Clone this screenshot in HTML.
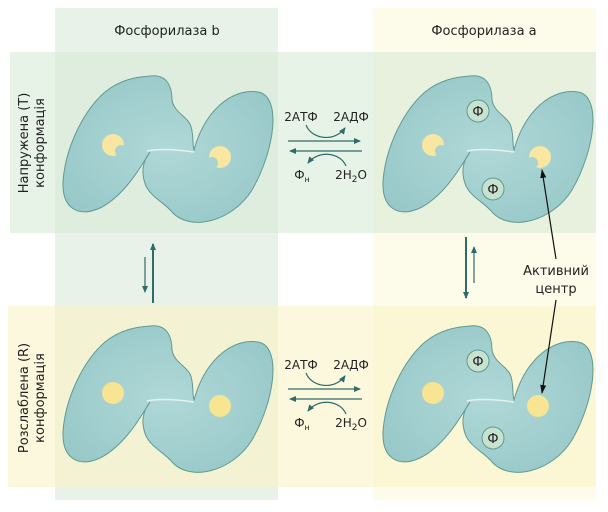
<!DOCTYPE html>
<html><head><meta charset="utf-8"><style>
html,body{margin:0;padding:0;background:#fff;}
svg{display:block;}
text{font-family:"DejaVu Sans","Liberation Sans",sans-serif;fill:#222;}
</style></head><body>
<svg width="608" height="512" viewBox="0 0 608 512" xmlns="http://www.w3.org/2000/svg">
<defs>
<radialGradient id="pg" cx="0.5" cy="0.5" r="0.6">
<stop offset="0" stop-color="#b0d8d8"/><stop offset="1" stop-color="#98c8c8"/>
</radialGradient>
<path id="prot" d="M150,76 C168,74 172,88 172,100 C174,112 186,116 190,124 C194,132 192,144 194,150 C205,110 232,88 258,92 C282,96 275,150 252,190 C232,222 190,232 172,212 C165,203 152,198 146,186 C141,174 142,162 150,152 C140,168 124,196 100,208 C78,218 62,208 63,182 C65,150 82,112 105,92 C120,80 135,77 150,76 Z" fill="url(#pg)" stroke="#5f9a93" stroke-width="1"/>
<path id="crease" d="M147,151 C160,148 180,150 194,152" fill="none" stroke="#e6f2f0" stroke-width="1.5"/>
<marker id="ah" markerWidth="8" markerHeight="8" refX="6" refY="3" orient="auto" markerUnits="userSpaceOnUse"><path d="M0,0 L7,3 L0,6 Z" fill="#2e6b6b"/></marker>
<marker id="ahb" markerWidth="10" markerHeight="8" refX="8" refY="3" orient="auto" markerUnits="userSpaceOnUse"><path d="M0,0 L9,3 L0,6 Z" fill="#111"/></marker>
</defs>
<rect x="55" y="8" width="223" height="492" fill="#e8f2e9"/>
<rect x="373" y="8" width="223" height="492" fill="#fdfbe9"/>
<rect x="10" y="52" width="586" height="181" fill="#d6e9d6" fill-opacity="0.55"/>
<rect x="8" y="306" width="588" height="181" fill="#faf3c6" fill-opacity="0.6"/>

<text x="167" y="35" font-size="13" text-anchor="middle">Фосфорилаза b</text>
<text x="484" y="35" font-size="13" text-anchor="middle">Фосфорилаза a</text>
<text transform="translate(28,143) rotate(-90)" font-size="13" text-anchor="middle">Напружена (T)</text>
<text transform="translate(44,143) rotate(-90)" font-size="13" text-anchor="middle">конформація</text>
<text transform="translate(28,398) rotate(-90)" font-size="13" text-anchor="middle">Розслаблена (R)</text>
<text transform="translate(44,398) rotate(-90)" font-size="13" text-anchor="middle">конформація</text>

<g id="tp"><use href="#prot"/><use href="#crease"/>
<circle cx="113" cy="145" r="11" fill="#f7e7a0"/><circle cx="121" cy="151" r="6" fill="#a9d3d3"/>
<circle cx="220" cy="157" r="11" fill="#f7e7a0"/><circle cx="212" cy="163" r="6" fill="#a9d3d3"/></g>
<use href="#tp" transform="translate(320,0)"/>
<g transform="translate(0,250)"><use href="#prot"/><use href="#crease"/>
<circle cx="113" cy="143" r="11" fill="#f8e592"/><circle cx="220" cy="156" r="11" fill="#f8e592"/></g>
<g transform="translate(320,250)"><use href="#prot"/><use href="#crease"/>
<circle cx="113" cy="143" r="11" fill="#f8e592"/><circle cx="218" cy="156" r="11" fill="#f8e592"/></g>

<g font-size="13" text-anchor="middle">
<circle cx="478" cy="111" r="11" fill="#c7e3cf" stroke="#5f9a93"/><text x="478" y="116">Ф</text>
<circle cx="493" cy="189" r="11" fill="#c7e3cf" stroke="#5f9a93"/><text x="493" y="194">Ф</text>
<circle cx="478" cy="361" r="11" fill="#c7e3cf" stroke="#5f9a93"/><text x="478" y="366">Ф</text>
<circle cx="493" cy="438" r="11" fill="#c7e3cf" stroke="#5f9a93"/><text x="493" y="443">Ф</text>
</g>

<g id="rx">
<text x="301" y="121" font-size="12" text-anchor="middle">2АТФ</text>
<text x="351" y="121" font-size="12" text-anchor="middle">2АДФ</text>
<text x="302" y="179" font-size="12" text-anchor="middle">Ф<tspan font-size="8" dy="3">н</tspan></text>
<text x="351" y="179" font-size="12" text-anchor="middle">2H<tspan font-size="9" dy="3">2</tspan><tspan dy="-3">O</tspan></text>
<line x1="288" y1="141" x2="360" y2="141" stroke="#2e6b6b" stroke-width="1.2" marker-end="url(#ah)"/>
<line x1="362" y1="151" x2="290" y2="151" stroke="#2e6b6b" stroke-width="1.2" marker-end="url(#ah)"/>
<path d="M306,125 C312,140 335,142 345,128" fill="none" stroke="#2e6b6b" stroke-width="1.2" marker-end="url(#ah)"/>
<path d="M346,166 C340,152 318,150 308,163" fill="none" stroke="#2e6b6b" stroke-width="1.2" marker-end="url(#ah)"/>
</g>
<use href="#rx" transform="translate(0,248)"/>

<line x1="153" y1="303" x2="153" y2="244" stroke="#2e6b6b" stroke-width="2" marker-end="url(#ah)"/>
<line x1="145" y1="257" x2="145" y2="292" stroke="#2e6b6b" stroke-width="1.2" marker-end="url(#ah)"/>
<line x1="466" y1="237" x2="466" y2="298" stroke="#2e6b6b" stroke-width="2" marker-end="url(#ah)"/>
<line x1="474" y1="283" x2="474" y2="247" stroke="#2e6b6b" stroke-width="1.2" marker-end="url(#ah)"/>

<text x="556" y="275" font-size="13" text-anchor="middle">Активний</text>
<text x="556" y="293" font-size="13" text-anchor="middle">центр</text>
<line x1="556" y1="259" x2="542" y2="170" stroke="#111" stroke-width="1.2" marker-end="url(#ahb)"/>
<line x1="556" y1="300" x2="542" y2="393" stroke="#111" stroke-width="1.2" marker-end="url(#ahb)"/>
</svg>
</body></html>
